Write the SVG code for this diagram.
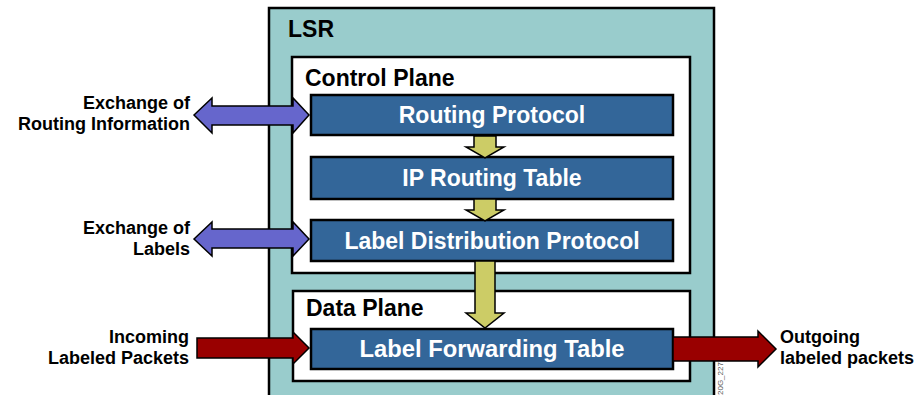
<svg xmlns="http://www.w3.org/2000/svg" width="922" height="395" viewBox="0 0 922 395">
<style>
.t{font-family:"Liberation Sans",Arial,sans-serif;font-weight:bold}
.big{font-size:23px;fill:#000}
.box{fill:#336699;stroke:#000;stroke-width:2.5}
.bl{font-size:23px;fill:#fff;text-anchor:middle}
.side{font-size:18px;fill:#000}
.purple{fill:#6666CC;stroke:#000;stroke-width:1.5;stroke-linejoin:miter}
.red{fill:#990000;stroke:#000;stroke-width:1.5}
.yel{fill:#CCCC66;stroke:#000;stroke-width:1.5}
.plane{fill:#fff;stroke:#000;stroke-width:2.5}
</style>
<rect width="922" height="395" fill="#fff"/>
<g id="lsr">
<rect x="269" y="8" width="445" height="400" fill="#99CCCC" stroke="#000" stroke-width="2.5"/>
<text class="t big" x="288" y="37">LSR</text>
</g>
<g id="control-plane">
<rect class="plane" x="292" y="57" width="398" height="216"/>
<text class="t big" x="305" y="86">Control Plane</text>
</g>
<g id="data-plane">
<rect class="plane" x="293" y="291" width="397" height="90"/>
<text class="t big" x="306" y="316">Data Plane</text>
</g>
<g id="routing-protocol">
<rect class="box" x="311" y="95" width="362" height="40"/>
<text class="t bl" x="492" y="123">Routing Protocol</text>
</g>
<g id="ip-routing-table">
<rect class="box" x="311" y="157" width="362" height="42"/>
<text class="t bl" x="492" y="186">IP Routing Table</text>
</g>
<g id="ldp">
<rect class="box" x="311" y="220" width="362" height="41"/>
<text class="t bl" x="492" y="249">Label Distribution Protocol</text>
</g>
<g id="lft">
<rect class="box" x="311" y="329" width="362" height="40"/>
<text class="t bl" x="492" y="357" textLength="265" lengthAdjust="spacingAndGlyphs">Label Forwarding Table</text>
</g>
<g id="connectors">
<polygon class="yel" points="474,136 496,136 496,147 504,147 485,158 466,147 474,147"/>
<polygon class="yel" points="474,199 496,199 496,210 504,210 485,221 466,210 474,210"/>
<polygon class="yel" points="475,261 495,261 495,313 504,313 485,328 466,313 475,313"/>
<polygon class="purple" points="194,115 212,98 212,106 293,106 293,98 309,115 293,133 293,125 212,125 212,133"/>
<polygon class="purple" points="194,239 212,222 212,229 293,229 293,222 309,239 293,256 293,248 212,248 212,256"/>
<polygon class="red" points="197,338 293,338 293,332 309,348 293,364 293,358 197,358"/>
<polygon class="red" points="673,337 758,337 758,331 776,349 758,367 758,361 673,361"/>
</g>
<g id="labels">
<text class="t side" text-anchor="end" x="190" y="109">Exchange of</text>
<text class="t side" text-anchor="end" x="190" y="130">Routing Information</text>
<text class="t side" text-anchor="end" x="190" y="234">Exchange of</text>
<text class="t side" text-anchor="end" x="190" y="255">Labels</text>
<text class="t side" text-anchor="end" x="189" y="343">Incoming</text>
<text class="t side" text-anchor="end" x="189" y="364">Labeled Packets</text>
<text class="t side" x="780" y="343">Outgoing</text>
<text class="t side" x="780" y="364">labeled packets</text>
<text font-family="Liberation Sans,Arial,sans-serif" font-size="8" fill="#555" transform="translate(723,395) rotate(-90)">20G_227</text>
</g>
</svg>
